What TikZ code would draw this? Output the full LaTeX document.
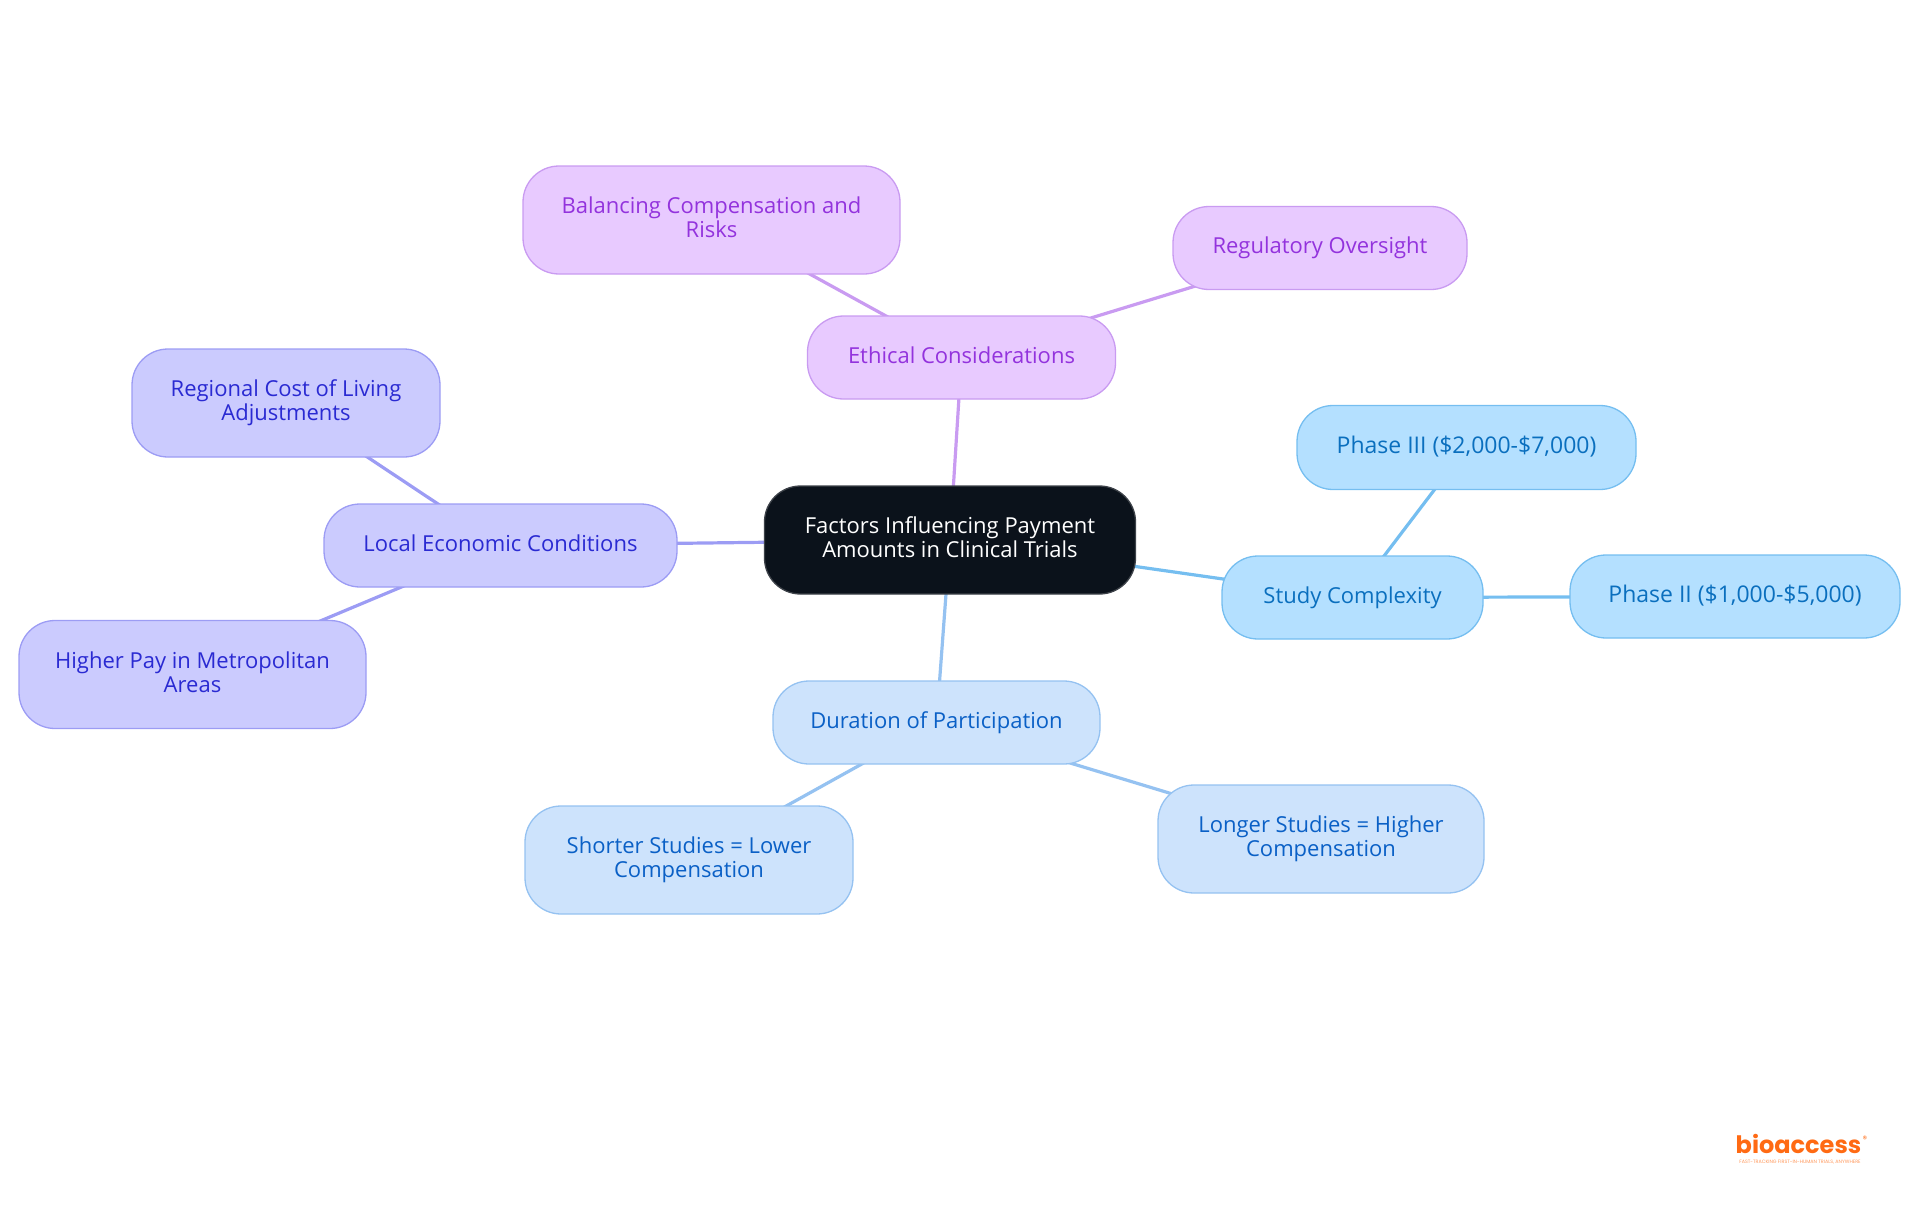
\documentclass[tikz,border=0pt]{standalone}
\usepackage{fontspec}
\setmainfont{Open Sans}[Scale=1]
\newfontfamily\logofont{Poppins}
\usetikzlibrary{backgrounds}
\definecolor{rootfill}{HTML}{0B121B}
\definecolor{rootline}{HTML}{3D4249}
\definecolor{purfill}{HTML}{E8CAFF}
\definecolor{purline}{HTML}{C99BF1}
\definecolor{purtext}{HTML}{9333DD}
\definecolor{skyfill}{HTML}{B4E0FF}
\definecolor{skyline}{HTML}{75BEF0}
\definecolor{skytext}{HTML}{0A6FBE}
\definecolor{bluefill}{HTML}{CDE3FC}
\definecolor{blueline}{HTML}{95C2F1}
\definecolor{bluetext}{HTML}{0A60C6}
\definecolor{indfill}{HTML}{CBCBFE}
\definecolor{indline}{HTML}{9C9CF4}
\definecolor{indtext}{HTML}{2A2AD2}
\definecolor{logoorange}{HTML}{FF6A13}
\tikzset{
  x=1pt,y=-1pt,
  box/.style={rectangle,rounded corners=36pt,line width=1.3pt,inner sep=0pt,align=center,
    font=\fontsize{22}{24}\selectfont,
    execute at begin node={\rule{0pt}{17pt}},
    execute at end node={\rule[-5.5pt]{0pt}{5.5pt}}},
  widetext/.style={font=\fontsize{23}{24}\selectfont},
  rootbox/.style={box,fill=rootfill,draw=rootline,text=white},
  purbox/.style={box,fill=purfill,draw=purline,text=purtext},
  skybox/.style={box,fill=skyfill,draw=skyline,text=skytext},
  bluebox/.style={box,fill=bluefill,draw=blueline,text=bluetext},
  indbox/.style={box,fill=indfill,draw=indline,text=indtext},
  link/.style={line width=3.2pt},
}
\begin{document}
\begin{tikzpicture}
\useasboundingbox (0,0) rectangle (1920,1215);
\node[rootbox,minimum width=371pt,minimum height=108pt] (root) at (950,540) {Factors Influencing Payment\\Amounts in Clinical Trials};
\node[purbox,minimum width=308pt,minimum height=83pt] (ethic) at (961.5,357.5) {Ethical Considerations};
\node[purbox,minimum width=377pt,minimum height=108pt] (bal) at (711.5,220) {Balancing Compensation and\\Risks};
\node[purbox,minimum width=294pt,minimum height=83pt] (reg) at (1320,248) {Regulatory Oversight};
\node[skybox,minimum width=261pt,minimum height=83pt] (study) at (1352.5,597.5) {Study Complexity};
\node[skybox,widetext,minimum width=339pt,minimum height=84pt] (ph3) at (1466.5,447.5) {Phase III (\$2,000-\$7,000)};
\node[skybox,widetext,minimum width=330pt,minimum height=83pt] (ph2) at (1735,596.5) {Phase II (\$1,000-\$5,000)};
\node[bluebox,minimum width=327pt,minimum height=83pt] (dur) at (936.5,722.5) {Duration of Participation};
\node[bluebox,minimum width=328pt,minimum height=108pt] (short) at (689,860) {Shorter Studies = Lower\\Compensation};
\node[bluebox,minimum width=326pt,minimum height=108pt] (long) at (1321,839) {Longer Studies = Higher\\Compensation};
\node[indbox,minimum width=353pt,minimum height=83pt] (local) at (500.5,545.5) {Local Economic Conditions};
\node[indbox,minimum width=308pt,minimum height=108pt] (regional) at (286,403) {Regional Cost of Living\\Adjustments};
\node[indbox,minimum width=347pt,minimum height=108pt] (metro) at (192.5,674.5) {Higher Pay in Metropolitan\\Areas};
\begin{scope}[on background layer]
\draw[link,purline] (root.center) -- (ethic.center);
\draw[link,purline] (ethic.center) -- (bal.center);
\draw[link,purline] (ethic.center) -- (reg.center);
\draw[link,skyline] (root.center) -- (study.center);
\draw[link,skyline] (study.center) -- (ph3.center);
\draw[link,skyline] (study.center) -- (ph2.center);
\draw[link,blueline] (root.center) -- (dur.center);
\draw[link,blueline] (dur.center) -- (short.center);
\draw[link,blueline] (dur.center) -- (long.center);
\draw[link,indline] (root.center) -- (local.center);
\draw[link,indline] (local.center) -- (regional.center);
\draw[link,indline] (local.center) -- (metro.center);
\end{scope}
\node[inner sep=0pt,text=logoorange,font=\logofont\fontsize{24}{24}\selectfont\bfseries] (logo) at (1798.5,1144) {bioaccess};
\node[inner sep=0pt,text=logoorange,font=\logofont\fontsize{9}{9}\selectfont] (regmark) at (1865,1139) {®};
\node[inner sep=0pt,text=logoorange!70,font=\logofont\fontsize{4.8}{5}\selectfont] (tag) at (1800,1162) {FAST-TRACKING FIRST-IN-HUMAN TRIALS, ANYWHERE};
\end{tikzpicture}
\end{document}
